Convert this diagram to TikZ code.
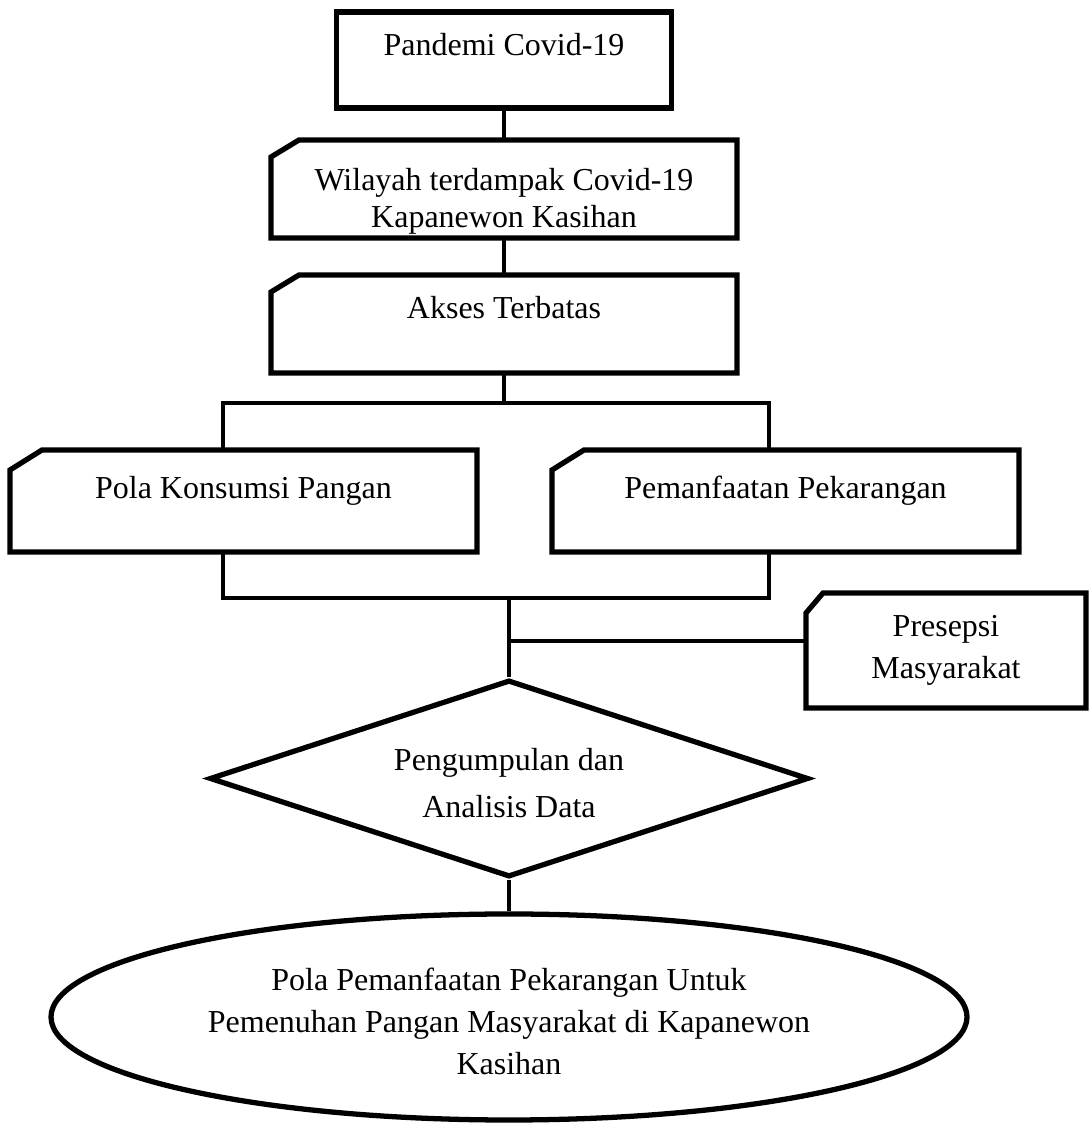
\documentclass[tikz,border=0pt]{standalone}
\usepackage{fontspec}
\setmainfont{Liberation Serif}
\usetikzlibrary{shapes.geometric}
\tikzset{
    kotak/.style={draw, line width=1.5pt, align=center, inner sep=0pt},
    potong/.style={align=center, inner sep=0pt, outer sep=0pt},
    bingkai/.style={line width=1.5pt},
    naik/.style={text height=6.5pt, text depth=#1},
    turun/.style={text height=#1, text depth=0pt},
    belah/.style={kotak, diamond, aspect=3},
    elips/.style={kotak, ellipse},
    garis/.style={line width=1pt},
}
% kotak dengan sudut kiri atas terpotong
\newcommand{\bingkaipotong}[3]{%
  \draw[bingkai] ([xshift=#2]#1.north west) -- (#1.north east) -- (#1.south east)
    -- (#1.south west) -- ([yshift=-#3]#1.north west) -- cycle;}
\begin{document}
\begin{tikzpicture}[font=\fontsize{9.1pt}{11.95pt}\selectfont]
\useasboundingbox (0,0) rectangle (10.88,11.24);
% Alur atas
\node[kotak, minimum width=3.35cm, minimum height=0.96cm, naik=8.8pt] (pandemi) at (5.04,10.64) {Pandemi Covid-19};
\node[potong, minimum width=4.66cm, minimum height=0.98cm, turun=22.2pt] (wilayah) at (5.04,9.35)
    {Wilayah terdampak Covid-19\\[-1.4pt]Kapanewon Kasihan};
\node[potong, minimum width=4.66cm, minimum height=0.98cm, naik=9.35pt] (akses) at (5.04,8.00) {Akses Terbatas};
% Dua cabang
\node[potong, minimum width=4.67cm, minimum height=1.02cm, naik=7.65pt] (konsumsi) at (2.435,6.23) {Pola Konsumsi Pangan};
\node[potong, minimum width=4.67cm, minimum height=1.02cm, naik=7.65pt] (pekarangan) at (7.855,6.23) {Pemanfaatan Pekarangan};
\node[potong, minimum width=2.80cm, minimum height=1.15cm] (presepsi) at (9.46,4.735) {Presepsi\\Masyarakat};
% Analisis dan hasil
\node[belah, minimum width=5.99cm, minimum height=1.97cm, turun=22.1pt] (analisis) at (5.09,3.455) {Pengumpulan dan\\[1.4pt]Analisis Data};
\node[elips, minimum width=9.16cm, minimum height=2.06cm, turun=33pt] (hasil) at (5.09,1.07)
    {Pola Pemanfaatan Pekarangan Untuk\\Pemenuhan Pangan Masyarakat di Kapanewon\\Kasihan};
\coordinate (bagiL) at (2.23,7.21);
\coordinate (bagiR) at (7.69,7.21);
\coordinate (gabungL) at (2.23,5.26);
\coordinate (gabungR) at (7.69,5.26);
\coordinate (temu) at (5.09,4.83);
% Penghubung
\draw[garis] (pandemi) -- (wilayah);
\draw[garis] (wilayah) -- (akses);
\draw[garis] (akses) -- (akses |- bagiL);
\draw[garis] (bagiL |- konsumsi.north) -- (bagiL) -- (bagiR) -- (bagiR |- pekarangan.north);
\draw[garis] (gabungL |- konsumsi.south) -- (gabungL) -- (gabungR) -- (gabungR |- pekarangan.south);
\draw[garis] (analisis.north |- gabungL) -- (analisis);
\draw[garis] (temu) -- (presepsi.west |- temu);
\draw[garis] (analisis) -- (hasil);
% Bingkai kotak terpotong
\bingkaipotong{wilayah}{0.28cm}{0.17cm}
\bingkaipotong{akses}{0.28cm}{0.17cm}
\bingkaipotong{konsumsi}{0.32cm}{0.20cm}
\bingkaipotong{pekarangan}{0.32cm}{0.20cm}
\bingkaipotong{presepsi}{0.17cm}{0.20cm}
\end{tikzpicture}
\end{document}
